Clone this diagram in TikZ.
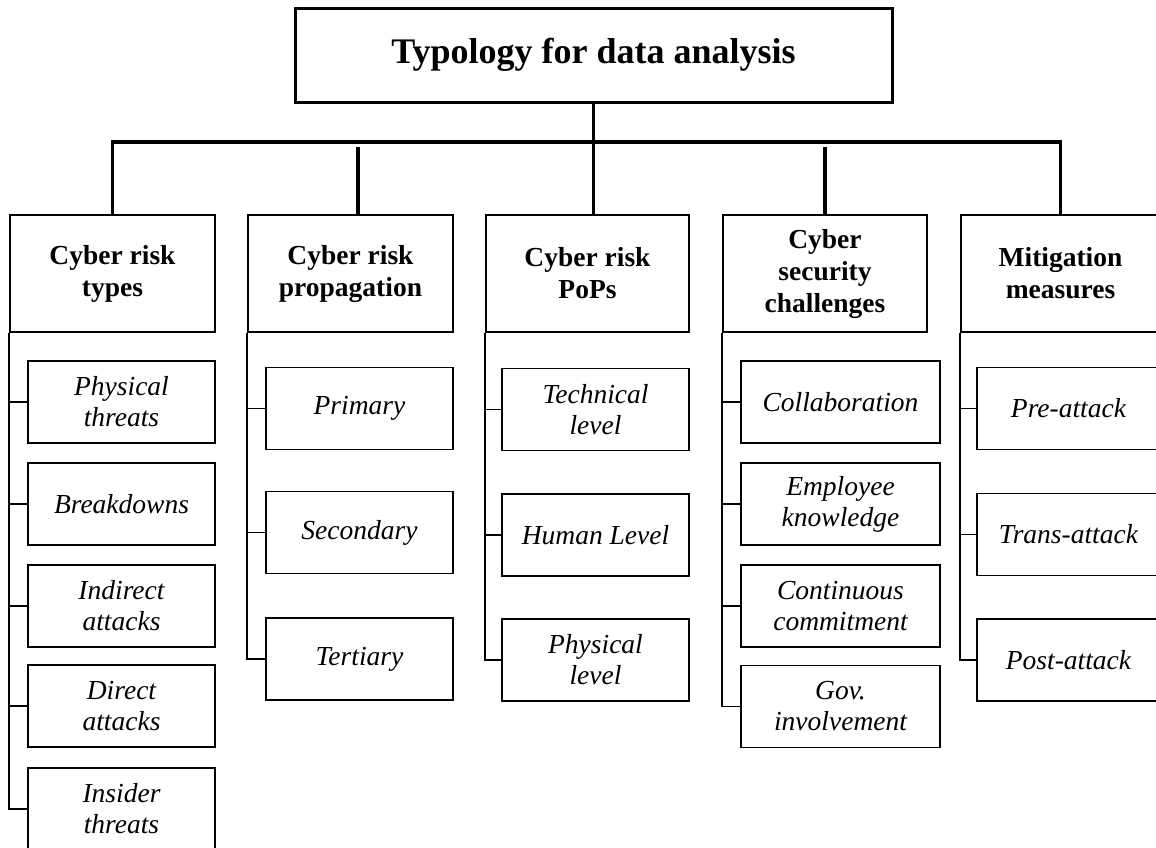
\documentclass[tikz,border=0pt]{standalone}
\usepackage{fontspec}
\setmainfont{Liberation Serif}
\tikzset{
    titlebox/.style={draw,line width=3pt,minimum width=597,minimum height=94,inner sep=0,font=\fontsize{36}{40}\selectfont\bfseries},
    headbox/.style={draw,line width=1.7pt,minimum height=117,align=center,inner sep=0,font=\fontsize{27.5}{32}\selectfont\bfseries},
    itembox/.style={draw,line width=1.7pt,minimum height=82,align=center,inner sep=0,font=\fontsize{27.5}{31}\selectfont\itshape},
    bar/.style={line width=3.5pt},
    twig/.style={line width=1.8pt}
}
\begin{document}
\begin{tikzpicture}[x=1pt,y=-1pt]
            \useasboundingbox[fill=white] (0,0) rectangle (1156,847);
            \node[titlebox] (title) at (593.5,55) {Typology for data analysis};
            \coordinate (bus) at (0,142);
            \node[headbox,minimum width=205] (h1) at (112.5,273.5) {Cyber risk\\types};
            \node[headbox,minimum width=205] (h2) at (350.5,273.5) {Cyber risk\\propagation};
            \node[headbox,minimum width=203] (h3) at (587.5,273.5) {Cyber risk\\PoPs};
            \node[headbox,minimum width=204] (h4) at (825,273.5) {Cyber\\security\\challenges};
            \node[headbox,minimum width=199] (h5) at (1060.5,273.5) {Mitigation\\measures};
            \draw[bar] (title.south) -- (title.south |- bus);
            \draw[bar] (h1.north) -- (h1.north |- bus) -- (h5.north |- bus) -- (h5.north);
            \draw[bar] (title.south |- bus) -- (title.south |- h3.north);
            \draw[bar] ([xshift=7.5]h2.north) -- ++(0,-67);
            \draw[bar] (h4.north) -- ++(0,-67);
            \foreach \n/\y/\t in {1/402/{Physical\\threats},2/504/{Breakdowns},3/606/{Indirect\\attacks},4/706/{Direct\\attacks},5/809/{Insider\\threats}}{
                \node[itembox,minimum width=187] (a\n) at (121.5,\y) {\t};
                \draw[twig] (h1.south west) |- (a\n.west);
            }
            \foreach \n/\y/\t in {1/408.5/{Primary},2/532.5/{Secondary},3/659/{Tertiary}}{
                \node[itembox,minimum width=187] (b\n) at (359.5,\y) {\t};
                \draw[twig] (h2.south west) |- (b\n.west);
            }
            \foreach \n/\y/\t in {1/409.5/{Technical\\level},2/535/{Human Level},3/660/{Physical\\level}}{
                \node[itembox,minimum width=187] (c\n) at (595.5,\y) {\t};
                \draw[twig] (h3.south west) |- (c\n.west);
            }
            \foreach \n/\y/\t in {1/402/{Collaboration},2/504/{Employee\\knowledge},3/606/{Continuous\\commitment},4/706.5/{Gov.\\involvement}}{
                \node[itembox,minimum width=199] (d\n) at (840.5,\y) {\t};
                \draw[twig] (h4.south west) |- (d\n.west);
            }
            \foreach \n/\y/\t in {1/408.5/{Pre-attack},2/534.5/{Trans-attack},3/660/{Post-attack}}{
                \node[itembox,minimum width=183] (e\n) at (1068.5,\y) {\t};
                \draw[twig] (h5.south west) |- (e\n.west);
            }
        \end{tikzpicture}
\end{document}
